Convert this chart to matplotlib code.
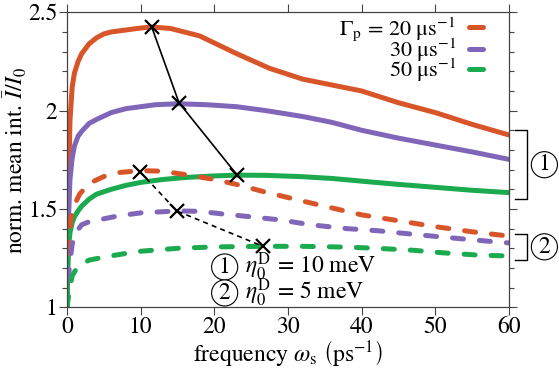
import numpy as np
import matplotlib.pyplot as plt

plt.rcParams['font.family'] = ['STIXGeneral', 'DejaVu Serif']
plt.rcParams['mathtext.fontset'] = 'stix'
plt.rcParams['font.size'] = 17

# colours for the three pump rates
c_orange = '#D8552A'
c_purple = '#8066B8'
c_green = '#1BAA4E'

# solid curves: eta_0^D = 10 meV
x_or1 = [0, 0.2, 0.4, 0.7, 1, 1.5, 2, 3, 4, 5, 6, 8, 10, 11.5, 14, 18, 23, 27.5, 32, 36, 40, 45, 50, 55, 60]
y_or1 = [1.0, 1.6, 1.95, 2.12, 2.19, 2.25, 2.29, 2.34, 2.37, 2.39, 2.40, 2.41, 2.42, 2.425, 2.418, 2.38, 2.29, 2.215, 2.16, 2.13, 2.10, 2.04, 1.99, 1.93, 1.876]

x_pu1 = [0, 0.2, 0.4, 0.7, 1, 1.5, 2, 3, 4, 6, 8, 10, 12, 15, 19, 23, 27, 32, 36, 40, 45, 50, 55, 60]
y_pu1 = [1.0, 1.45, 1.65, 1.76, 1.82, 1.87, 1.895, 1.935, 1.955, 1.99, 2.01, 2.02, 2.03, 2.035, 2.03, 2.02, 2.0, 1.97, 1.94, 1.90, 1.86, 1.825, 1.79, 1.752]

x_gr1 = [0, 0.1, 0.2, 0.4, 0.7, 1, 1.5, 2, 3, 4, 6, 8, 10, 13, 16, 20, 23, 27, 32, 36, 41, 45, 50, 55, 60]
y_gr1 = [1.0, 1.2, 1.3, 1.38, 1.43, 1.46, 1.49, 1.515, 1.55, 1.575, 1.60, 1.62, 1.635, 1.65, 1.66, 1.668, 1.672, 1.671, 1.664, 1.655, 1.638, 1.625, 1.61, 1.595, 1.583]

# dashed curves: eta_0^D = 5 meV
x_or2 = [0, 0.2, 0.5, 1, 1.7, 3, 5, 7, 10, 13, 16, 20, 23, 27, 32, 36, 40, 45, 50, 55, 60]
y_or2 = [1.0, 1.3, 1.45, 1.52, 1.575, 1.63, 1.665, 1.685, 1.695, 1.692, 1.675, 1.65, 1.625, 1.585, 1.54, 1.505, 1.47, 1.44, 1.41, 1.384, 1.362]

x_pu2 = [0, 0.3, 0.7, 1.2, 2, 3, 5, 7, 10, 15, 18, 21, 25, 29, 33, 38, 42, 46, 51, 56, 60]
y_pu2 = [1.0, 1.2, 1.32, 1.38, 1.42, 1.435, 1.45, 1.465, 1.48, 1.49, 1.488, 1.475, 1.46, 1.444, 1.42, 1.40, 1.39, 1.375, 1.357, 1.34, 1.327]

x_gr2 = [0, 0.3, 0.7, 1.5, 3, 5, 7, 10, 15, 20, 26.6, 32, 38, 42, 47, 51, 56, 60]
y_gr2 = [1.0, 1.08, 1.16, 1.21, 1.24, 1.255, 1.268, 1.285, 1.30, 1.307, 1.31, 1.31, 1.306, 1.30, 1.29, 1.277, 1.265, 1.261]

# maxima of each curve, joined by black lines
x_max1 = [11.5, 15.2, 23.1]
y_max1 = [2.425, 2.04, 1.672]
x_max2 = [9.9, 14.9, 26.6]
y_max2 = [1.69, 1.49, 1.31]

rates = ['20', '30', '50']

fig = plt.figure(figsize=(5.59, 3.69), dpi=100)
ax = fig.add_axes([0.1199, 0.1672, 0.7907, 0.7995])

lw = 3.6
solid = []
for xs, ys, c in [(x_or1, y_or1, c_orange), (x_pu1, y_pu1, c_purple), (x_gr1, y_gr1, c_green)]:
    ln, = ax.plot(xs, ys, color=c, lw=lw, solid_capstyle='round')
    solid.append(ln)
for xs, ys, c in [(x_or2, y_or2, c_orange), (x_pu2, y_pu2, c_purple), (x_gr2, y_gr2, c_green)]:
    ax.plot(xs, ys, color=c, lw=lw, dashes=(2.2, 3.2), dash_capstyle='round')

ax.plot(x_max1, y_max1, color='black', lw=1.2, marker='x', ms=10, mew=1.6)
ax.plot(x_max2, y_max2, color='black', lw=1.2, ls=(0, (3, 2.5)), marker='x', ms=10, mew=1.6)

ax.set_xlim(0, 60)
ax.set_ylim(1, 2.5)
ax.set_xticks(np.arange(0, 61, 10))
ax.set_yticks([1, 1.5, 2, 2.5])
ax.set_yticklabels(['1', '1.5', '2', '2.5'])
ax.set_yticks(np.arange(1, 2.51, 0.1), minor=True)
ax.tick_params(which='both', direction='out', top=True, right=True, color='#444444')
ax.tick_params(which='major', length=6, width=0.8, pad=1)
ax.tick_params(which='minor', length=3.5, width=0.8)
for sp in ax.spines.values():
    sp.set_color('#444444')
    sp.set_linewidth(0.9)

ax.set_xlabel(r'frequency $\omega_\mathrm{s}$ $\left(\mathrm{ps}^{-1}\right)$', labelpad=0)
ax.set_ylabel(r'norm. mean int. $\bar{I}/I_0$')
ax.yaxis.set_label_coords(-0.086, 0.5)

labels = [r'$\Gamma_\mathrm{p}\, =\, %s\ \mathrm{\mu s}^{-1}$' % rates[0],
          r'$%s\ \mathrm{\mu s}^{-1}$' % rates[1],
          r'$%s\ \mathrm{\mu s}^{-1}$' % rates[2]]
ax.legend(solid, labels, loc='upper right', bbox_to_anchor=(0.94, 0.99), markerfirst=False,
          frameon=False, handlelength=0.6, handletextpad=0.6, labelspacing=-0.32,
          borderaxespad=0.0, borderpad=0.0, fontsize=16)

# annotations
circ = dict(boxstyle='circle,pad=0.1', fc='white', ec='black', lw=0.8)
ax.text(21.4, 1.205, '1', ha='center', va='center', bbox=circ)
ax.text(24.2, 1.205, r'$\eta_0^\mathrm{D}\, =\, 10\ \mathrm{meV}$', ha='left', va='center')
ax.text(21.4, 1.073, '2', ha='center', va='center', bbox=circ)
ax.text(24.2, 1.073, r'$\eta_0^\mathrm{D}\, =\, 5\ \mathrm{meV}$', ha='left', va='center')

# brackets on the right
for y0, y1, num, in [(1.90, 1.55, '1'), (1.375, 1.24, '2')]:
    ax.plot([60.8, 62.4, 62.4, 60.8], [y0, y0, y1, y1], color='black', lw=1.0, clip_on=False)
    ax.text(64.8, (y0 + y1) / 2, num, ha='center', va='center', bbox=circ)

fig.savefig('out.png', dpi=100)
